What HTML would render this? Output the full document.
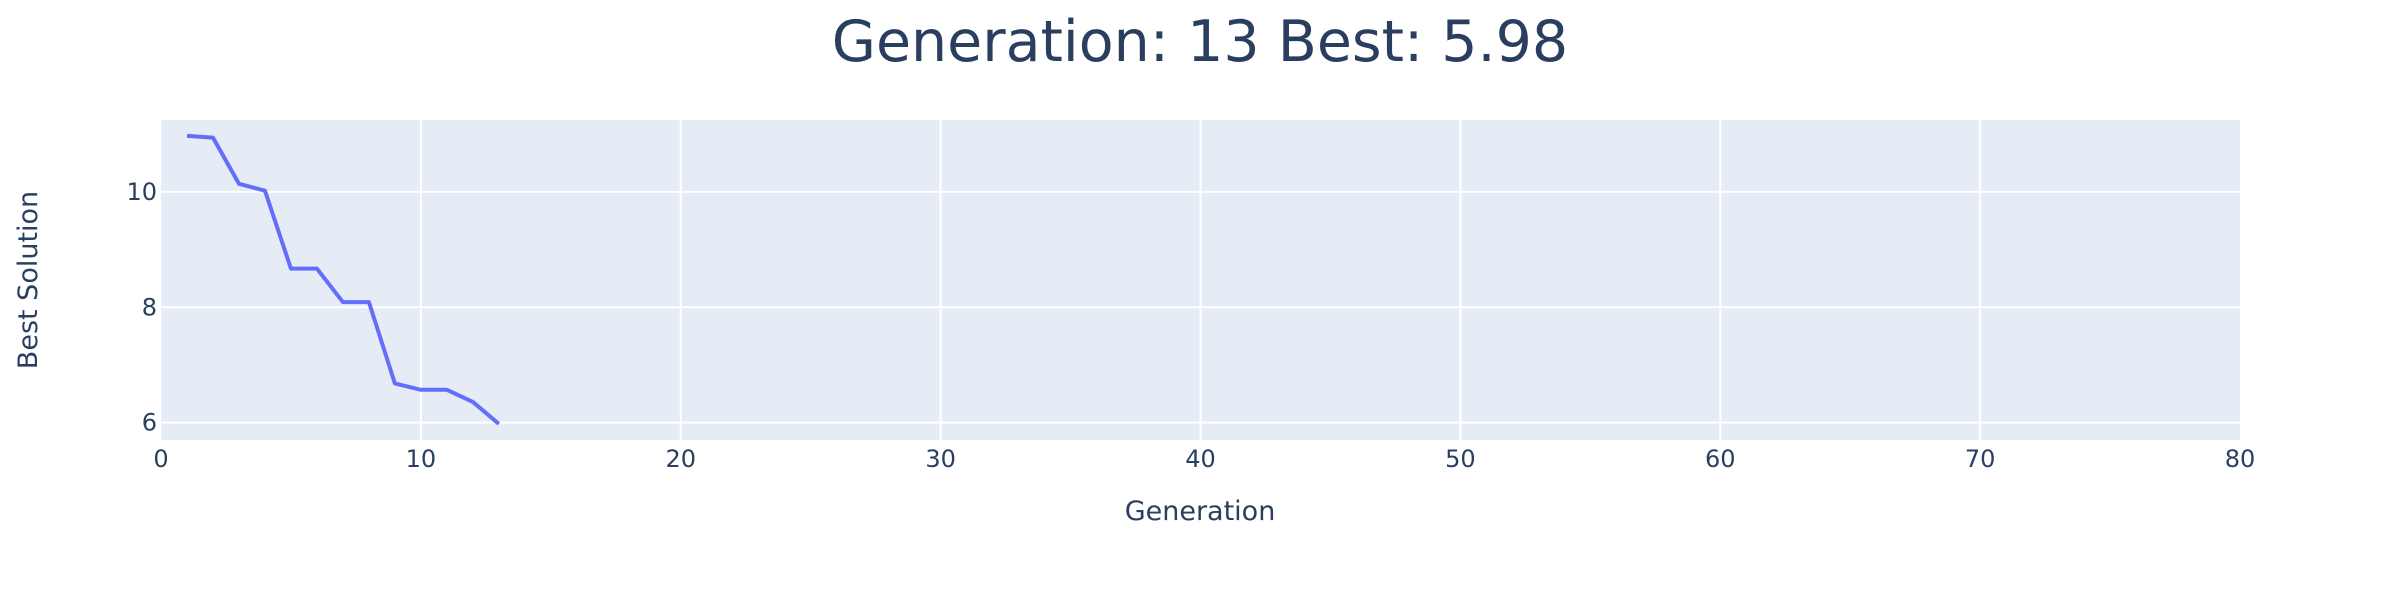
<!DOCTYPE html>
<html><head><meta charset="utf-8"><style>
body{margin:0;background:#fff}
svg{display:block;font-family:"DejaVu Sans","Liberation Sans",sans-serif}
</style></head><body>
<svg id="chart" width="2400" height="600">
<rect x="0" y="0" width="2400" height="600" fill="#fff"/>
<text x="1200" y="61" text-anchor="middle" font-size="57" fill="#2a3f5f">Generation: 13 Best: 5.98</text>
<rect x="161" y="120" width="2079" height="320" fill="#e5ecf6"/>
<g id="grid"></g>
<g id="ticks"></g>
<path id="line" fill="none" stroke="#636efa" stroke-width="4" stroke-linejoin="round"/>
<text x="1200" y="520" text-anchor="middle" font-size="27" fill="#2a3f5f">Generation</text>
<text transform="translate(37,280) rotate(-90)" text-anchor="middle" font-size="27" fill="#2a3f5f">Best Solution</text>
</svg>
<script>
const generations=[1,2,3,4,5,6,7,8,9,10,11,12,13];
const bestValues=[10.97,10.94,10.14,10.02,8.67,8.67,8.09,8.09,6.68,6.57,6.57,6.36,5.98];
const xTicks=[0,10,20,30,40,50,60,70,80];
const yTicks=[6,8,10];
const L=161,R=2240,T=120,B=440,XMIN=0,XMAX=80,YMIN=5.7,YMAX=11.245;
function sx(v){return L+(v-XMIN)/(XMAX-XMIN)*(R-L);}
function sy(v){return B-(v-YMIN)/(YMAX-YMIN)*(B-T);}
const NS="http://www.w3.org/2000/svg";
const grid=document.getElementById('grid'),ticks=document.getElementById('ticks');
xTicks.forEach(t=>{
  if(t>XMIN&&t<XMAX){
    const l=document.createElementNS(NS,'line');
    l.setAttribute('x1',sx(t));l.setAttribute('x2',sx(t));l.setAttribute('y1',T);l.setAttribute('y2',B);
    l.setAttribute('stroke','#fff');l.setAttribute('stroke-width','2');
    
    
    grid.appendChild(l);
  }
  const tx=document.createElementNS(NS,'text');
  tx.setAttribute('x',sx(t));tx.setAttribute('y',467);tx.setAttribute('text-anchor','middle');
  tx.setAttribute('font-size','24');tx.setAttribute('fill','#2a3f5f');tx.textContent=t;
  
  
  ticks.appendChild(tx);
});
yTicks.forEach(t=>{
  const l=document.createElementNS(NS,'line');
  l.setAttribute('x1',L);l.setAttribute('x2',R);l.setAttribute('y1',sy(t));l.setAttribute('y2',sy(t));
  l.setAttribute('stroke','#fff');l.setAttribute('stroke-width','2');
  
  
  grid.appendChild(l);
  const tx=document.createElementNS(NS,'text');
  tx.setAttribute('x',L-4);tx.setAttribute('y',sy(t)+8);tx.setAttribute('text-anchor','end');
  tx.setAttribute('font-size','24');tx.setAttribute('fill','#2a3f5f');tx.textContent=t;
  
  
  ticks.appendChild(tx);
});
document.getElementById('line').setAttribute('d',generations.map((g,i)=>(i?'L':'M')+sx(g)+','+sy(bestValues[i])).join(' '));
</script>
</body></html>
